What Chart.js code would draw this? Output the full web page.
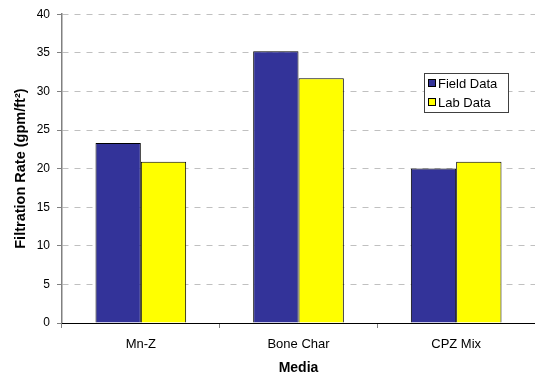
<!DOCTYPE html>
<html>
<head>
<meta charset="utf-8">
<script src="https://cdn.jsdelivr.net/npm/chart.js@4/dist/chart.umd.min.js"></script>
<style>
  html, body { margin: 0; padding: 0; background: #fff; }
  #wrap { width: 535px; height: 377px; }
</style>
</head>
<body>
<div id="wrap"><canvas id="c" width="535" height="377"></canvas></div>
<script>
// Filtration rate by media type
const categories = ['Mn-Z', 'Bone Char', 'CPZ Mix'];
const fieldData = [23.3, 35.2, 20.0];
const labData = [20.9, 31.7, 20.9];
const seriesNames = ['Field Data', 'Lab Data'];
const yTicks = [0, 5, 10, 15, 20, 25, 30, 35, 40];

const FONT = "'Liberation Sans', Arial, sans-serif";

// Boxed legend drawn inside the plot area
const boxLegend = {
  id: 'boxLegend',
  afterDraw(chart) {
    const ctx = chart.ctx;
    const x = 424, y = 73, w = 84, h = 39;
    ctx.save();
    ctx.fillStyle = '#ffffff';
    ctx.fillRect(x, y, w, h);
    ctx.strokeStyle = '#404040';
    ctx.lineWidth = 1;
    ctx.strokeRect(x + 0.5, y + 0.5, w, h);
    ctx.font = '13px ' + FONT;
    ctx.textBaseline = 'middle';
    chart.data.datasets.forEach((ds, i) => {
      const cy = y + 10 + i * 19;
      ctx.fillStyle = ds.backgroundColor;
      ctx.fillRect(x + 4, cy - 4, 7, 7);
      ctx.strokeStyle = '#000';
      ctx.strokeRect(x + 4.5, cy - 3.5, 7, 7);
      ctx.fillStyle = '#000';
      ctx.fillText(ds.label, x + 14, cy + 1);
    });
    ctx.restore();
  }
};

new Chart(document.getElementById('c'), {
  type: 'bar',
  data: {
    labels: categories,
    datasets: [
      { label: seriesNames[0], data: fieldData, backgroundColor: '#333399', borderColor: '#000000', borderWidth: 1, borderSkipped: 'bottom' },
      { label: seriesNames[1], data: labData, backgroundColor: '#FFFF00', borderColor: '#000000', borderWidth: 1, borderSkipped: 'bottom' }
    ]
  },
  options: {
    responsive: false,
    animation: false,
    layout: { padding: { top: 13, left: 0, right: 0, bottom: 0 } },
    datasets: { bar: { categoryPercentage: 0.575, barPercentage: 1.0 } },
    plugins: { legend: { display: false }, tooltip: { enabled: false } },
    scales: {
      x: {
        afterFit(s) { s.height = 54; },
        grid: { drawOnChartArea: false, drawTicks: true, tickLength: 5, color: '#808080' },
        border: { color: '#000000', width: 1, z: 1 },
        ticks: { color: '#000', font: { family: FONT, size: 13 }, padding: 9 },
        title: { display: true, text: 'Media', color: '#000', font: { family: FONT, size: 14, weight: 'bold' }, padding: { top: 0, bottom: 0 } }
      },
      y: {
        min: 0, max: 40,
        afterFit(s) { s.width = 62; },
        afterBuildTicks(s) { s.ticks = yTicks.map(v => ({ value: v })); },
        grid: {
          color: (c) => (c.tick && c.tick.value === 0) ? 'rgba(0,0,0,0)' : '#c0c0c0',
          tickColor: '#808080',
          tickLength: 5,
          lineWidth: 1
        },
        border: { color: '#808080', width: 1.5, dash: [6, 6] },
        ticks: { color: '#000', font: { family: FONT, size: 12 }, padding: 7 },
        title: { display: true, text: 'Filtration Rate (gpm/ft²)', color: '#000', font: { family: FONT, size: 14.5, weight: 'bold' }, padding: { top: 12, bottom: 0 } }
      }
    }
  },
  plugins: [boxLegend]
});
</script>
</body>
</html>
